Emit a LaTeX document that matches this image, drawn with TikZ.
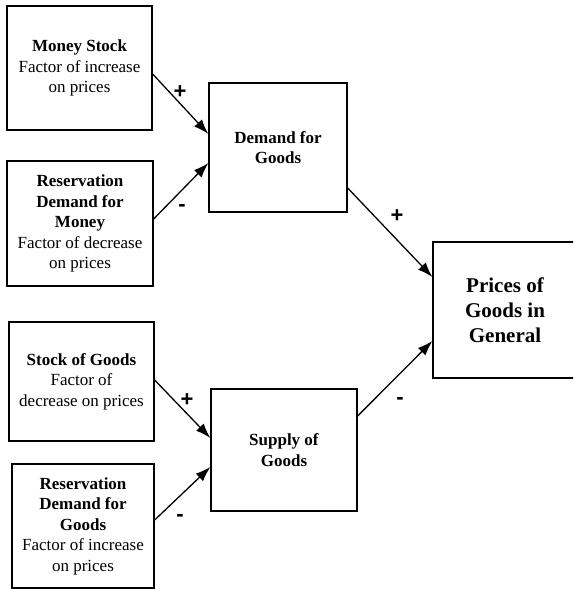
\documentclass[tikz,border=0pt]{standalone}
\usepackage{fontspec}
\setmainfont{Liberation Serif}
\newfontfamily\signfont{Liberation Sans}
\usetikzlibrary{arrows.meta}

\begin{document}
\begin{tikzpicture}[x=1pt, y=-1pt,
  box/.style={draw, line width=1.3pt, align=center, inner sep=2pt,
    font=\fontsize{17}{20.5}\selectfont},
  link/.style={-{Latex[length=15pt,width=10.5pt]}, line width=1.3pt},
  sign/.style={font=\signfont\bfseries\fontsize{22}{22}\selectfont}]

\clip (0,0) rectangle (573,589);

\node[box, minimum width=145pt, minimum height=124pt] (ms) at (79.5,68)
  {\textbf{Money Stock}\\Factor of increase\\on  prices};
\node[box, minimum width=146pt, minimum height=125pt] (rdm) at (80,223.5)
  {\textbf{Reservation}\\\textbf{Demand for}\\\textbf{Money}\\Factor of decrease\\on prices};
\node[box, minimum width=138pt, minimum height=129pt] (dg) at (278,147.5)
  {\textbf{Demand for}\\\textbf{Goods}};
\node[box, minimum width=145pt, minimum height=119pt] (sg) at (81.5,381.5)
  {\textbf{Stock of Goods}\\Factor of\\decrease on prices};
\node[box, minimum width=142pt, minimum height=124pt] (rdg) at (83,526)
  {\textbf{Reservation}\\\textbf{Demand for}\\\textbf{Goods}\\Factor of increase\\on  prices};
\node[box, minimum width=146pt, minimum height=122pt] (sup) at (284,450)
  {\textbf{Supply of}\\\textbf{Goods}};
\node[box, minimum width=144pt, minimum height=136pt,
  font=\fontsize{21}{25}\selectfont\bfseries] (pg) at (505,310)
  {Prices of\\Goods in\\General};

\draw[link] ([yshift=-6pt]ms.east) -- ([yshift=13.5pt]dg.west);
\draw[link] ([yshift=4.5pt]rdm.east) -- ([yshift=-15.5pt]dg.west);
\draw[link] ([yshift=1.5pt]sg.east) -- ([yshift=12pt]sup.west);
\draw[link] ([yshift=6pt]rdg.east) -- ([yshift=-17pt]sup.west);
\draw[link] ([yshift=-40.5pt]dg.east) -- ([yshift=33pt]pg.west);
\draw[link] ([yshift=34pt]sup.east) -- ([yshift=-31pt]pg.west);

\node[sign] (s1) at (180,92) {+};
\node[sign] (s2) at (182,208) {-};
\node[sign] (s3) at (187,400) {+};
\node[sign] (s4) at (180,518) {-};
\node[sign] (s5) at (397,216) {+};
\node[sign] (s6) at (400,401) {-};

\end{tikzpicture}
\end{document}
